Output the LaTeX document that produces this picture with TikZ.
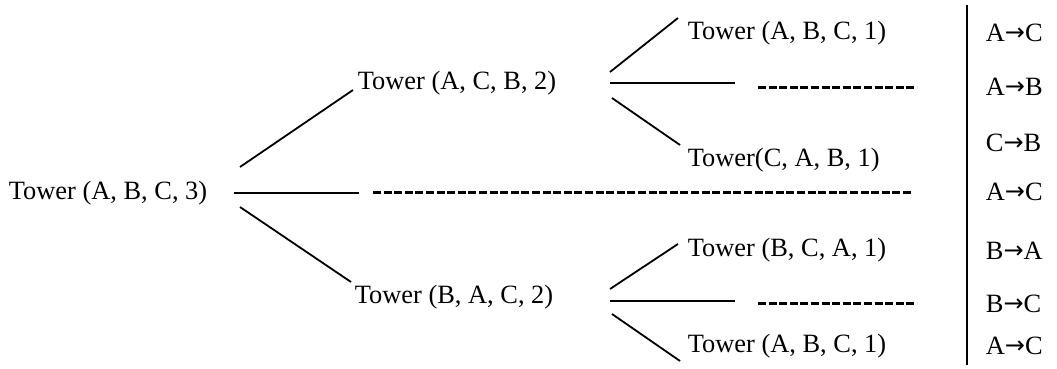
\documentclass[tikz,border=0pt]{standalone}
\usepackage{fontspec}
\setmainfont{Liberation Serif}
\newfontfamily\arrowfont{DejaVu Sans}
\newcommand{\mv}[2]{#1\raisebox{0.6pt}{\fontsize{12}{12}\arrowfont →}#2}
\begin{document}
\begin{tikzpicture}[x=0.5pt,y=-0.5pt,line width=0.9pt,
  call/.style={anchor=west,inner sep=0pt,font=\fontsize{13.2}{16}\selectfont},
  gap/.style={dash pattern=on 4pt off 1.3pt,line width=1.5pt}]
  \useasboundingbox (0,0) rectangle (1057,369);
  % calls
  \node[call] (abc3) at (8,193) {Tower (A, B, C, 3)};
  \node[call] (acb2) at (357,83) {Tower (A, C, B, 2)};
  \node[call] (bac2) at (354,297) {Tower (B, A, C, 2)};
  \node[call] (abc1a) at (687,33) {Tower (A, B, C, 1)};
  \node[call] (cab1) at (687,160) {Tower(C, A, B, 1)};
  \node[call] (bca1) at (687,250) {Tower (B, C, A, 1)};
  \node[call] (abc1b) at (687,346) {Tower (A, B, C, 1)};
  % fork ends
  \coordinate (r0) at (240,167); \coordinate (r1) at (353,90);
  \coordinate (h0) at (234,193); \coordinate (h1) at (359,193);
  \coordinate (s0) at (240,207); \coordinate (s1) at (351,282);
  \coordinate (d0) at (373,193); \coordinate (d1) at (912,193);
  \draw (r0)--(r1);
  \draw (h0)--(h1);
  \draw (s0)--(s1);
  \draw[gap] (d0)--(d1);
  % upper subtree
  \coordinate (a0) at (610,72); \coordinate (a1) at (678,18);
  \coordinate (b0) at (610,83); \coordinate (b1) at (735,83);
  \coordinate (c0) at (612,98); \coordinate (c1) at (680,145);
  \coordinate (e0) at (758,88); \coordinate (e1) at (917,88);
  \draw (a0)--(a1);
  \draw (b0)--(b1);
  \draw (c0)--(c1);
  \draw[gap] (e0)--(e1);
  % lower subtree
  \coordinate (f0) at (610,289); \coordinate (f1) at (678,244);
  \coordinate (g0) at (610,301); \coordinate (g1) at (735,301);
  \coordinate (k0) at (612,314); \coordinate (k1) at (680,361);
  \coordinate (n0) at (758,304); \coordinate (n1) at (917,304);
  \draw (f0)--(f1);
  \draw (g0)--(g1);
  \draw (k0)--(k1);
  \draw[gap] (n0)--(n1);
  % moves
  \coordinate (v0) at (967,5); \coordinate (v1) at (967,365);
  \draw (v0)--(v1);
  \node[call] (m1) at (985,33) {\mv{A}{C}};
  \node[call] (m2) at (985,87) {\mv{A}{B}};
  \node[call] (m3) at (985,143) {\mv{C}{B}};
  \node[call] (m4) at (985,192) {\mv{A}{C}};
  \node[call] (m5) at (985,251) {\mv{B}{A}};
  \node[call] (m6) at (985,304) {\mv{B}{C}};
  \node[call] (m7) at (985,346) {\mv{A}{C}};
\end{tikzpicture}
\end{document}
